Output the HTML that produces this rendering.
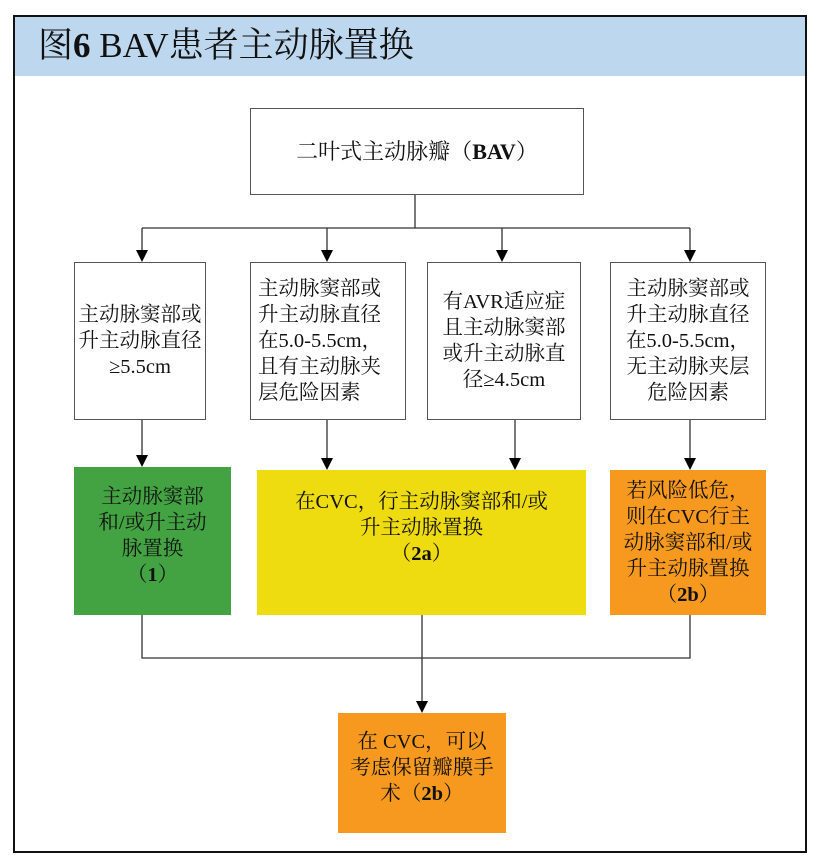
<!DOCTYPE html>
<html><head><meta charset="utf-8"><style>
body{margin:0;width:826px;height:868px;background:#fff;position:relative;font-family:"Liberation Serif","Noto Serif CJK SC",serif;overflow:hidden}
.a{position:absolute;box-sizing:border-box}
.bx{border:1px solid #555;background:#fff;display:flex;align-items:center;justify-content:center;text-align:center;font-size:20.5px;line-height:26px;color:#111}
.c{display:flex;align-items:center;justify-content:center;text-align:center;font-size:20.5px;line-height:26px;color:#111}
b{font-weight:bold}
</style></head><body>
<div class="a" style="left:13px;top:15px;width:794px;height:838px;border:2px solid #111"></div>
<div class="a" style="left:15px;top:17px;width:790px;height:59px;background:#bdd7ee"></div>
<div class="a" style="left:38px;top:24px;font-size:35px;line-height:44px;color:#111;white-space:nowrap">图<b>6</b> BAV患者主动脉置换</div>
<div class="a bx" style="left:250px;top:108px;width:334px;height:87px;font-size:22px"><div>二叶式主动脉瓣（<b>BAV</b>）</div></div>
<svg class="a" style="left:0;top:0" width="826" height="868">
<g stroke="#333" stroke-width="1.3" fill="none">
<path d="M415 195V228M142 228H690M142 228V252M327 228V252M502 228V252M690 228V252"/>
<path d="M142 420V457M327 420V460M515 420V460M690 420V460"/>
<path d="M142 615V658H690V615M422 615V703"/>
</g>
<g fill="#000">
<path d="M136 250L148 250L142 262Z"/><path d="M321 250L333 250L327 262Z"/><path d="M496 250L508 250L502 262Z"/><path d="M684 250L696 250L690 262Z"/>
<path d="M136 455L148 455L142 467Z"/><path d="M321 458L333 458L327 470Z"/><path d="M509 458L521 458L515 470Z"/><path d="M684 458L696 458L690 470Z"/>
<path d="M416 701L428 701L422 713Z"/>
</g></svg>
<div class="a bx" style="left:74px;top:262px;width:132px;height:158px"><div style="white-space:nowrap">主动脉窦部或<br>升主动脉直径<br>≥5.5cm</div></div>
<div class="a bx" style="left:250px;top:262px;width:156px;height:158px;justify-content:flex-start;padding-left:7px"><div style="text-align:left;white-space:nowrap">主动脉窦部或<br>升主动脉直径<br>在5.0-5.5cm，<br>且有主动脉夹<br>层危险因素</div></div>
<div class="a bx" style="left:427px;top:262px;width:154px;height:158px"><div style="white-space:nowrap">有AVR适应症<br>且主动脉窦部<br>或升主动脉直<br>径≥4.5cm</div></div>
<div class="a bx" style="left:610px;top:262px;width:156px;height:158px"><div style="white-space:nowrap">主动脉窦部或<br>升主动脉直径<br>在5.0-5.5cm，<br>无主动脉夹层<br>危险因素</div></div>
<div class="a c" style="left:74px;top:467px;width:157px;height:148px;background:#43a343;padding-bottom:10px"><div style="white-space:nowrap">主动脉窦部<br>和/或升主动<br>脉置换<br>（<b>1</b>）</div></div>
<div class="a c" style="left:257px;top:470px;width:329px;height:145px;background:#eedc10;padding-bottom:30px"><div style="white-space:nowrap">在CVC，行主动脉窦部和/或<br>升主动脉置换<br>（<b>2a</b>）</div></div>
<div class="a c" style="left:610px;top:470px;width:156px;height:145px;background:#f7991f"><div style="white-space:nowrap">若风险低危，<br>则在CVC行主<br>动脉窦部和/或<br>升主动脉置换<br>（<b>2b</b>）</div></div>
<div class="a c" style="left:338px;top:713px;width:168px;height:120px;background:#f7991f;padding-bottom:10px"><div style="white-space:nowrap">在 CVC，可以<br>考虑保留瓣膜手<br>术（<b>2b</b>）</div></div>
</body></html>
